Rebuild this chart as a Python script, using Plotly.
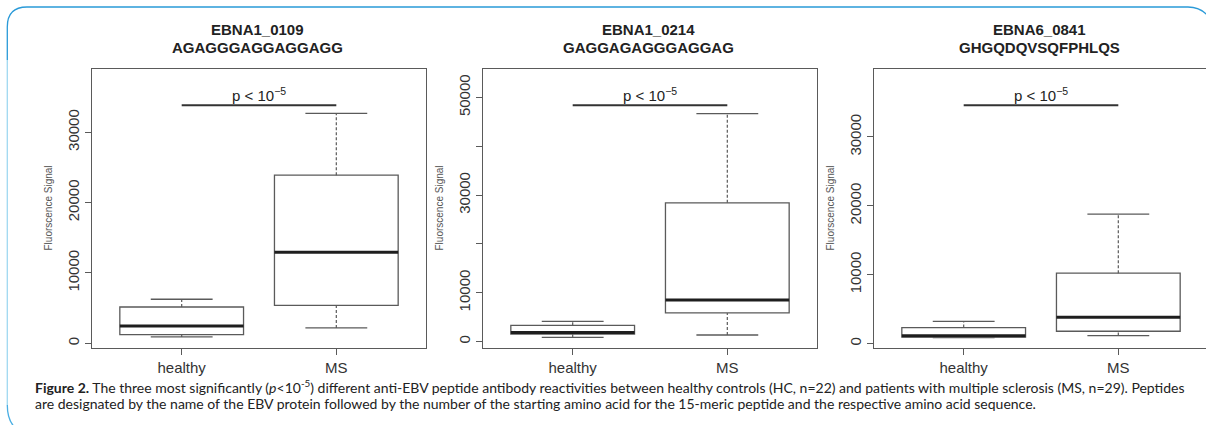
import plotly.graph_objects as go

W, H = 1206, 425

# ---------------- data ----------------
groups = ["healthy", "MS"]
titles = ["EBNA1_0109", "EBNA1_0214", "EBNA6_0841"]
sequences = ["AGAGGGAGGAGGAGG", "GAGGAGAGGGAGGAG", "GHGQDQVSQFPHLQS"]

# [healthy, MS] per panel
lower_whisker = [[900, 2180], [880, 1350], [880, 1160]]
q1_vals       = [[1220, 5400], [1560, 5870], [950, 1790]]
median_vals   = [[2460, 12940], [1850, 8530], [1150, 3820]]
q3_vals       = [[5160, 23900], [3340, 28420], [2330, 10220]]
upper_whisker = [[6260, 32700], [4160, 46680], [3240, 18800]]

p_line_y = [33850, 48400, 34590]
p_label = "p < 10<sup>−5</sup>"

y_ranges = [[-670, 39000], [-1310, 55840], [-640, 39870]]
y_tickvals = [[0, 10000, 20000, 30000],
              [0, 10000, 30000, 50000],
              [0, 10000, 20000, 30000]]
y_ticktext = [["0", "10000", "20000", "30000"],
              ["0", "10000", "30000", "50000"],
              ["0", "10000", "20000", "30000"]]
y_unlabeled = [[], [20000, 40000], []]
y_label = "Fluorscence Signal"

caption_1 = ("<b>Figure 2.</b> The three most significantly (<i>p</i>&lt;10<sup>-5</sup>) different anti-EBV "
             "peptide antibody reactivities between healthy controls (HC, n=22) and patients with "
             "multiple sclerosis (MS, n=29). Peptides")
caption_2 = ("are designated by the name of the EBV protein followed by the number of the starting "
             "amino acid for the 15-meric peptide and the respective amino acid sequence.")

# ---------------- layout geometry (pixels) ----------------
frame_left = [92, 483, 874]
frame_w = 334
frame_top, frame_bot = 69, 348

def px(x):
    return x / W

def py(y):
    return 1 - y / H

fig = go.Figure()

FONT = "Liberation Sans, Arial, sans-serif"
box_col = "#5a5a5a"
dark = "#1e1e1e"

annotations = []
for i in range(3):
    xa = "x" if i == 0 else f"x{i+1}"
    ya = "y" if i == 0 else f"y{i+1}"
    xs = [1, 2]
    for j in range(2):
        x = xs[j]
        fig.add_trace(go.Box(
            x=[x], q1=[q1_vals[i][j]], median=[median_vals[i][j]], q3=[q3_vals[i][j]],
            lowerfence=[q1_vals[i][j]], upperfence=[q3_vals[i][j]],
            width=0.8, fillcolor="white", line=dict(color=box_col, width=1.3),
            xaxis=xa, yaxis=ya, showlegend=False, hoverinfo="skip", boxpoints=False))
        fig.add_trace(go.Scatter(
            x=[x - 0.4, x + 0.4], y=[median_vals[i][j]] * 2, mode="lines",
            line=dict(color=dark, width=3), xaxis=xa, yaxis=ya, showlegend=False, hoverinfo="skip"))
        for a, b in [(lower_whisker[i][j], q1_vals[i][j]), (q3_vals[i][j], upper_whisker[i][j])]:
            fig.add_trace(go.Scatter(
                x=[x, x], y=[a, b], mode="lines",
                line=dict(color=box_col, width=1.2, dash="3px,2px"),
                xaxis=xa, yaxis=ya, showlegend=False, hoverinfo="skip"))
        for v in [lower_whisker[i][j], upper_whisker[i][j]]:
            fig.add_trace(go.Scatter(
                x=[x - 0.2, x + 0.2], y=[v, v], mode="lines",
                line=dict(color=box_col, width=1.3),
                xaxis=xa, yaxis=ya, showlegend=False, hoverinfo="skip"))
    fig.add_trace(go.Scatter(
        x=[1, 2], y=[p_line_y[i]] * 2, mode="lines",
        line=dict(color="#333333", width=2), xaxis=xa, yaxis=ya,
        showlegend=False, hoverinfo="skip"))
    annotations.append(dict(
        x=1.5, y=p_line_y[i], xref=xa, yref=ya, text=p_label, showarrow=False,
        yanchor="bottom", yshift=-1, font=dict(family=FONT, size=15, color="#222")))

    left = frame_left[i]
    right = min(left + frame_w, W)
    dom = [px(left), px(right)]
    span = 2.16 * (right - left) / frame_w
    xaxis = dict(domain=dom, range=[0.42, 0.42 + span], tickvals=[1, 2], ticktext=groups,
                 ticks="outside", ticklen=6, tickcolor=box_col, showline=True, linecolor=box_col,
                 linewidth=1, mirror=True, showgrid=False, zeroline=False, anchor=ya,
                 tickfont=dict(family=FONT, size=15, color="#333"), fixedrange=True)
    yaxis = dict(domain=[py(frame_bot), py(frame_top)], range=y_ranges[i],
                 tickvals=y_tickvals[i], ticktext=y_ticktext[i], tickangle=-90,
                 ticks="outside", ticklen=6, tickcolor=box_col, showline=True, linecolor=box_col,
                 linewidth=1, mirror=(i < 2), showgrid=False, zeroline=False, anchor=xa,
                 tickfont=dict(family=FONT, size=15, color="#333"), fixedrange=True)
    if y_unlabeled[i]:
        yaxis["minor"] = dict(tickvals=y_unlabeled[i], ticks="outside", ticklen=6,
                              tickcolor=box_col, showgrid=False)
    key = "" if i == 0 else str(i + 1)
    fig.update_layout(**{f"xaxis{key}": xaxis, f"yaxis{key}": yaxis})

    cx = px(left + frame_w / 2 - 2)
    annotations.append(dict(x=cx, y=py(30), xref="paper", yref="paper", text=f"<b>{titles[i]}</b>",
                            showarrow=False, font=dict(family=FONT, size=15, color="#222"),
                            xanchor="center", yanchor="middle"))
    annotations.append(dict(x=cx, y=py(48), xref="paper", yref="paper", text=f"<b>{sequences[i]}</b>",
                            showarrow=False, font=dict(family=FONT, size=15, color="#222"),
                            xanchor="center", yanchor="middle"))
    annotations.append(dict(x=px(left - 44), y=py(208.5), xref="paper", yref="paper", text=y_label,
                            textangle=-90, showarrow=False,
                            font=dict(family=FONT, size=10, color="#555"),
                            xanchor="center", yanchor="middle"))

CAP_FONT = dict(family="Lato, Open Sans, sans-serif", size=14, color="#222")
annotations.append(dict(x=px(33), y=py(386), xref="paper", yref="paper", text=caption_1,
                        showarrow=False, xanchor="left", yanchor="middle", font=CAP_FONT))
annotations.append(dict(x=px(33), y=py(403), xref="paper", yref="paper", text=caption_2,
                        showarrow=False, xanchor="left", yanchor="middle", font=CAP_FONT))

def P(x, y):
    return f"{px(x):.5f},{py(y):.5f}"

top_path = f"M {P(7.3, 60)} L {P(7.3, 27)} Q {P(7.3, 7)} {P(27, 7)} L {P(1188, 7)} Q {P(1204, 7)} {P(1212, 22)}"
left_path = f"M {P(7.3, 60)} L {P(7.3, 405)}"
bot_path = f"M {P(7.3, 405)} Q {P(7.3, 428)} {P(25, 433)}"
shapes = [
    dict(type="path", path=top_path, xref="paper", yref="paper", line=dict(color="#2a9ad8", width=1.3)),
    dict(type="path", path=left_path, xref="paper", yref="paper", line=dict(color="#9fd8f1", width=1.3)),
    dict(type="path", path=bot_path, xref="paper", yref="paper", line=dict(color="#4aaee3", width=1.3)),
]

fig.update_layout(width=W, height=H, margin=dict(l=0, r=0, t=0, b=0),
                  paper_bgcolor="white", plot_bgcolor="white",
                  annotations=annotations, shapes=shapes, showlegend=False)

fig.write_html("out.html", config=dict(displayModeBar=False),
               post_script="document.body.style.margin='0';document.body.style.padding='0';")
